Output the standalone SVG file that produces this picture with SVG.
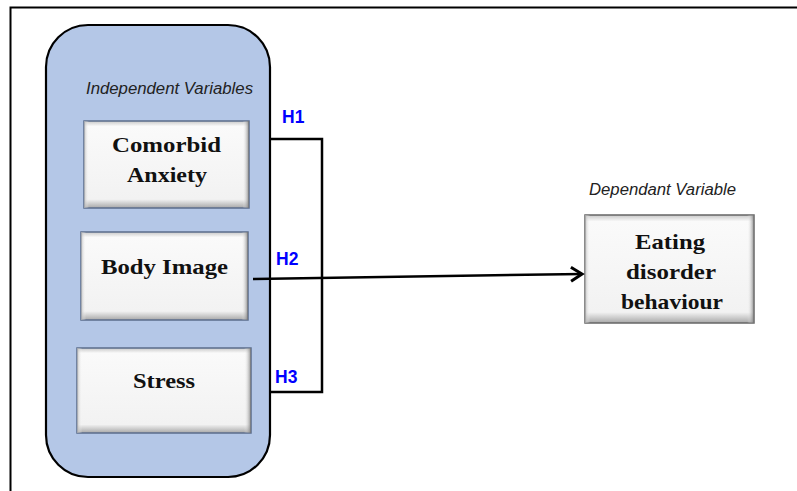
<svg xmlns="http://www.w3.org/2000/svg" width="797" height="491" viewBox="0 0 797 491">
<defs>
<linearGradient id="gv" x1="0" y1="0" x2="0" y2="1">
<stop offset="0" stop-color="#c8c8c8"/>
<stop offset="0.06" stop-color="#fafafa"/>
<stop offset="0.9" stop-color="#f2f2f2"/>
<stop offset="1" stop-color="#a8a8a8"/>
</linearGradient>
<linearGradient id="gh" x1="0" y1="0" x2="1" y2="0">
<stop offset="0" stop-color="#b0b0b0" stop-opacity="0.8"/>
<stop offset="0.03" stop-color="#ffffff" stop-opacity="0"/>
<stop offset="0.96" stop-color="#ffffff" stop-opacity="0"/>
<stop offset="1" stop-color="#707070" stop-opacity="0.8"/>
</linearGradient>
<marker id="arr" markerWidth="16" markerHeight="18" refX="13" refY="9" orient="auto" markerUnits="userSpaceOnUse">
<path d="M2,2 L13,9 L2,16" fill="none" stroke="#000" stroke-width="3" stroke-linejoin="miter"/>
</marker>
</defs>
<style>
.frame{fill:none;stroke:#000;stroke-width:2}
.cont{fill:#b4c7e7;stroke:#000;stroke-width:2.2}
.bx{fill:url(#gv);stroke:#5b6d8c;stroke-width:1.5}
.bxd{fill:url(#gv);stroke:#666;stroke-width:1.5}
.sh{fill:url(#gh);stroke:none}
.lbl{font-family:"Liberation Serif","Times New Roman",serif;font-weight:bold;font-size:22px;fill:#111}
.cap{font-family:"Liberation Sans",Arial,sans-serif;font-style:italic;font-size:16px;fill:#222}
.h{font-family:"Liberation Sans",Arial,sans-serif;font-weight:bold;font-size:17.5px;fill:#0000ff}
.ln{fill:none;stroke:#000;stroke-width:2.5}
</style>
<rect x="0" y="0" width="797" height="491" fill="#fff"/>
<path class="frame" d="M10.5,495 L10.5,7.5 L800,7.5"/>
<g id="independent-group">
<rect class="cont" x="46" y="25" width="224" height="452" rx="42" ry="42"/>
<text class="cap" x="86" y="94" textLength="167" lengthAdjust="spacingAndGlyphs">Independent Variables</text>
</g>
<g id="comorbid-anxiety">
<rect class="bx" x="84" y="121" width="165" height="87"/>
<rect class="sh" x="84" y="121" width="165" height="87"/>
<text class="lbl" x="112" y="152" textLength="109" lengthAdjust="spacingAndGlyphs">Comorbid</text>
<text class="lbl" x="127" y="182" textLength="80" lengthAdjust="spacingAndGlyphs">Anxiety</text>
</g>
<g id="body-image">
<rect class="bx" x="81" y="232" width="167" height="88"/>
<rect class="sh" x="81" y="232" width="167" height="88"/>
<text class="lbl" x="101" y="274" textLength="127" lengthAdjust="spacingAndGlyphs">Body Image</text>
</g>
<g id="stress">
<rect class="bx" x="77" y="348" width="174" height="85"/>
<rect class="sh" x="77" y="348" width="174" height="85"/>
<text class="lbl" x="133" y="388" textLength="62" lengthAdjust="spacingAndGlyphs">Stress</text>
</g>
<g id="dependent">
<text class="cap" x="589" y="195" textLength="147" lengthAdjust="spacingAndGlyphs">Dependant Variable</text>
<rect class="bxd" x="585" y="215" width="169" height="108"/>
<rect class="sh" x="585" y="215" width="169" height="108"/>
<text class="lbl" x="635" y="249" textLength="70" lengthAdjust="spacingAndGlyphs">Eating</text>
<text class="lbl" x="626" y="279" textLength="90" lengthAdjust="spacingAndGlyphs">disorder</text>
<text class="lbl" x="621" y="309" textLength="102" lengthAdjust="spacingAndGlyphs">behaviour</text>
</g>
<g id="connectors">
<path class="ln" d="M271,139 L322,139 L322,392 L271,392"/>
<path class="ln" d="M253,279 L582,274" marker-end="url(#arr)"/>
<text class="h" x="282" y="123">H1</text>
<text class="h" x="276" y="265">H2</text>
<text class="h" x="275" y="383">H3</text>
</g>
</svg>
